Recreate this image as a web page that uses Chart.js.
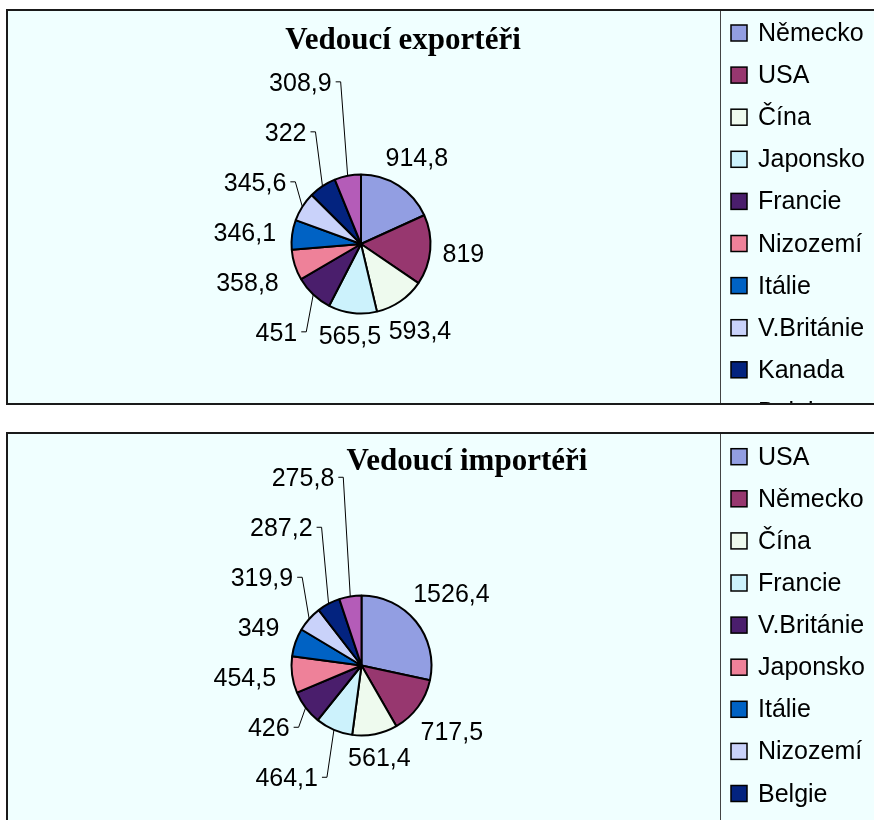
<!DOCTYPE html>
<html><head><meta charset="utf-8">
<script src="https://cdn.jsdelivr.net/npm/chart.js@4.4.1/dist/chart.umd.min.js"></script>
<style>
html,body{margin:0;padding:0;background:#fff;width:874px;height:820px;overflow:hidden;}
.frame{position:absolute;left:6px;width:900px;border:2px solid #1a1a1a;box-sizing:border-box;background:#F0FFFF;overflow:hidden;}
#f1{top:9px;height:396px;}
#f2{top:432px;height:430px;}
canvas{position:absolute;left:0;top:0;}
</style></head><body>
<div class="frame" id="f1"><canvas id="c1" width="866" height="392"></canvas></div>
<div class="frame" id="f2"><canvas id="c2" width="866" height="386"></canvas></div>
<script>
// ---- data ----
const exportTitle = 'Vedoucí exportéři';
const exportCountries = ['Německo','USA','Čína','Japonsko','Francie','Nizozemí','Itálie','V.Británie','Kanada','Belgie'];
const exportValues = [914.8, 819, 593.4, 565.5, 451, 358.8, 346.1, 345.6, 322, 308.9];

const importTitle = 'Vedoucí importéři';
const importCountries = ['USA','Německo','Čína','Francie','V.Británie','Japonsko','Itálie','Nizozemí','Belgie','Kanada'];
const importValues = [1526.4, 717.5, 561.4, 464.1, 426, 454.5, 349, 319.9, 287.2, 275.8];

// ---- styles ----
const sliceColors = ['#929EE2','#97376F','#EEFAEE','#CCF2FC','#4A1E6C','#EE8199','#0062C4','#C9D2FA','#03237F','#B45CB8'];

function fmt(v){ return String(v).replace('.', ','); }

const pieLabels = {
  id: 'pieLabels',
  afterDatasetsDraw(chart, args, o) {
    const ctx = chart.ctx;
    const meta = chart.getDatasetMeta(0);
    const vals = chart.data.datasets[0].data;
    ctx.save();
    ctx.font = o.font;
    const h = o.textHeight;
    const items = meta.data.map((arc, i) => {
      const p = arc.getProps(['x','y','startAngle','endAngle','outerRadius'], true);
      const mid = (p.startAngle + p.endAngle) / 2;
      const ux = Math.cos(mid), uy = Math.sin(mid);
      const text = fmt(vals[i]);
      const w = ctx.measureText(text).width;
      const R = p.outerRadius + o.gap;
      let lo = 0, hi = 500;
      for (let k = 0; k < 40; k++) {
        const t = (lo + hi) / 2;
        const ex = Math.max(Math.abs(t*ux) - w/2, 0), ey = Math.max(Math.abs(t*uy) - h/2, 0);
        if (Math.hypot(ex, ey) < R) lo = t; else hi = t;
      }
      return {text, w, cx: p.x + lo*ux, cy: p.y + lo*uy,
              ax: p.x + p.outerRadius*ux, ay: p.y + p.outerRadius*uy, left: ux < 0, grouped: false};
    });
    const S = o.spacing, off = o.edgeOffset, blend = 0.5;
    [true, false].forEach(isLeft => {
      const side = items.filter(it => it.left === isLeft)
        .sort((a, b) => isLeft ? b.cy - a.cy : a.cy - b.cy);
      const groups = [];
      side.forEach(it => {
        const g = groups[groups.length - 1];
        const prev = g && g[g.length - 1];
        if (prev && Math.abs(prev.cy - it.cy) < S && Math.abs(prev.cx - it.cx) < (prev.w + it.w) / 2) g.push(it);
        else groups.push([it]);
      });
      groups.forEach(g => {
        if (g.length < 2) return;
        const n = g.length, dir = isLeft ? -1 : 1;
        const mean = g.reduce((s, it) => s + it.cy, 0) / n;
        const y0 = g[0].cy;
        g.forEach((it, k) => {
          const anchored = y0 + dir*k*S;
          const centered = mean + dir*(k - (n-1)/2)*S;
          it.cy = blend*anchored + (1-blend)*centered;
          it.cx = isLeft ? it.ax - off - it.w/2 : it.ax + off + it.w/2;
          it.grouped = true;
        });
      });
    });
    ctx.fillStyle = o.color;
    ctx.strokeStyle = o.lineColor;
    ctx.lineWidth = 1;
    ctx.textAlign = 'center';
    ctx.textBaseline = 'alphabetic';
    items.forEach(it => {
      ctx.fillText(it.text, it.cx, it.cy + h/2);
      const ex = Math.max(Math.abs(it.ax - it.cx) - it.w/2, 0);
      const ey = Math.max(Math.abs(it.ay - it.cy) - h/2, 0);
      if (it.grouped && Math.hypot(ex, ey) > o.leaderMin) {
        const s = it.left ? 1 : -1;
        const sx = it.cx + s*(it.w/2 + 4);
        ctx.beginPath();
        ctx.moveTo(sx, it.cy);
        ctx.lineTo(sx + s*5, it.cy);
        ctx.lineTo(it.ax, it.ay);
        ctx.stroke();
      }
    });
    ctx.restore();
  }
};

const sideLegend = {
  id: 'sideLegend',
  afterDraw(chart, args, o) {
    const ctx = chart.ctx;
    const labels = chart.data.labels;
    const colors = chart.data.datasets[0].backgroundColor;
    ctx.save();
    ctx.strokeStyle = o.dividerColor;
    ctx.lineWidth = 1;
    ctx.beginPath();
    ctx.moveTo(o.dividerX, 0);
    ctx.lineTo(o.dividerX, chart.height);
    ctx.stroke();
    ctx.font = o.font;
    ctx.textAlign = 'left';
    ctx.textBaseline = 'alphabetic';
    labels.forEach((lab, i) => {
      const cy = o.top + i*o.step;
      ctx.fillStyle = colors[i];
      ctx.fillRect(o.boxX, cy - o.box/2, o.box, o.box);
      ctx.strokeStyle = '#000';
      ctx.lineWidth = 1.5;
      ctx.strokeRect(o.boxX, cy - o.box/2, o.box, o.box);
      ctx.fillStyle = '#000';
      ctx.fillText(lab, o.textX, cy + o.baselineShift);
    });
    ctx.restore();
  }
};

const fixedTitle = {
  id: 'fixedTitle',
  afterDraw(chart, args, o) {
    const ctx = chart.ctx;
    ctx.save();
    ctx.font = o.font;
    ctx.fillStyle = '#000';
    ctx.textAlign = 'center';
    ctx.textBaseline = 'alphabetic';
    ctx.fillText(o.text, o.x, o.y);
    ctx.restore();
  }
};

function makePie(canvasId, title, labels, values, pad, radius, titlePos, legendTop) {
  return new Chart(document.getElementById(canvasId), {
    type: 'pie',
    data: {
      labels: labels,
      datasets: [{
        data: values,
        backgroundColor: sliceColors,
        borderColor: '#000',
        borderWidth: 2
      }]
    },
    options: {
      responsive: false,
      devicePixelRatio: 1,
      animation: false,
      radius: radius,
      layout: { padding: pad },
      plugins: {
        legend: { display: false },
        title: { display: false },
        tooltip: { enabled: false },
        fixedTitle: { text: title, x: titlePos[0], y: titlePos[1], font: 'bold 31px "Liberation Serif", "Times New Roman", serif' },
        pieLabels: { font: '25px "Liberation Sans", Arial, sans-serif', textHeight: 18, gap: 12,
                     spacing: 50, edgeOffset: 16, leaderMin: 18, color: '#000', lineColor: '#000' },
        sideLegend: { dividerX: 712.5, dividerColor: '#444', top: legendTop, step: 42.1,
                      boxX: 723, box: 16, textX: 750, baselineShift: 8,
                      font: '25px "Liberation Sans", Arial, sans-serif' }
      }
    },
    plugins: [pieLabels, sideLegend, fixedTitle]
  });
}

makePie('c1', exportTitle, exportCountries, exportValues,
        {left: 0, right: 160, top: 74, bottom: 0}, 69.5, [395, 38], 22);
makePie('c2', importTitle, importCountries, importValues,
        {left: 0, right: 159, top: 77, bottom: 0}, 70, [459, 36], 22.7);
</script>
</body></html>
